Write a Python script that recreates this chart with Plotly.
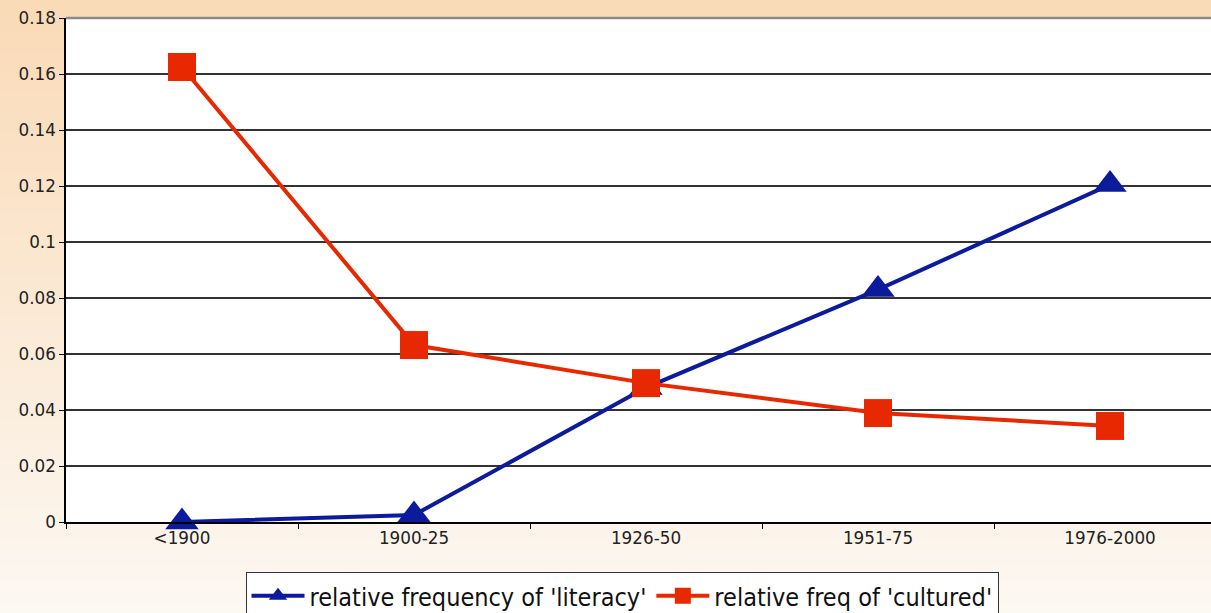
import plotly.graph_objects as go

categories = ["<1900", "1900-25", "1926-50", "1951-75", "1976-2000"]
literacy = [0.0, 0.0025, 0.048, 0.083, 0.1205]
cultured = [0.1625, 0.0632, 0.0496, 0.0389, 0.0343]
y_tickvals = [0, 0.02, 0.04, 0.06, 0.08, 0.1, 0.12, 0.14, 0.16, 0.18]
y_ticktext = ["0", "0.02", "0.04", "0.06", "0.08", "0.1", "0.12", "0.14", "0.16", "0.18"]

W, H = 1211, 613
ML, MR, MT, MB = 66, 0, 18, 91
pw, ph = W - ML - MR, H - MT - MB

fig = go.Figure()
fig.add_trace(go.Scatter(
    x=categories, y=literacy, mode="lines+markers",
    name="relative frequency of 'literacy'",
    line=dict(color="#0C1A9C", width=4),
    marker=dict(symbol="triangle-up", size=29, color="#0C1A9C"),
    cliponaxis=False,
))
fig.add_trace(go.Scatter(
    x=categories, y=cultured, mode="lines+markers",
    name="relative freq of 'cultured'",
    line=dict(color="#E82800", width=4),
    marker=dict(symbol="square", size=28, color="#E82800"),
    cliponaxis=False,
))

# gradient background
shapes = []
top_c = (250, 218, 182)
bot_c = (252, 248, 243)
n = 60
y_top = 1 + MT / ph
y_bot = -MB / ph
for i in range(n):
    t0 = i / n
    t1 = (i + 1) / n
    tm = (t0 + t1) / 2
    c = tuple(round(top_c[k] + (bot_c[k] - top_c[k]) * tm) for k in range(3))
    shapes.append(dict(
        type="rect", xref="paper", yref="paper", layer="below",
        x0=-ML / pw - 0.01, x1=1 + MR / pw + 0.01,
        y0=y_top - (y_top - y_bot) * t1 - 0.002, y1=y_top - (y_top - y_bot) * t0,
        fillcolor="rgb(%d,%d,%d)" % c, line=dict(width=0),
    ))
shapes.append(dict(type="rect", xref="paper", yref="paper", layer="below",
                   x0=0, x1=1, y0=0, y1=1, fillcolor="white", line=dict(width=0)))
shapes.append(dict(type="line", xref="paper", yref="paper", layer="between",
                   x0=0, x1=1, y0=1, y1=1, line=dict(color="#8a8a8a", width=2.5)))

fig.update_layout(
    width=W, height=H,
    margin=dict(l=ML, r=MR, t=MT, b=MB, pad=0, autoexpand=False),
    paper_bgcolor="rgb(252,240,228)",
    plot_bgcolor="white",
    shapes=shapes,
    font=dict(family="DejaVu Sans", size=16.8, color="#222"),
    showlegend=True,
    legend=dict(
        orientation="h", xref="container", yref="container",
        x=622 / W, xanchor="center", y=1 - 572 / H, yanchor="top",
        bgcolor="white", bordercolor="#333", borderwidth=1,
        font=dict(family="DejaVu Sans Condensed", size=25, color="#111"),
        itemwidth=53, tracegroupgap=0,
    ),
    xaxis=dict(
        type="category", range=[-0.5, -0.5 + pw / 232.0],
        tickson="boundaries", ticks="outside", ticklen=5, tickcolor="black",
        showline=True, linecolor="black", linewidth=1.5,
        showgrid=False, zeroline=False,
        tickfont=dict(family="DejaVu Sans", size=16.8, color="#222"),
    ),
    yaxis=dict(
        range=[0, 0.18], tickvals=y_tickvals, ticktext=y_ticktext,
        ticks="outside", ticklen=5, tickcolor="black",
        showline=True, linecolor="black", linewidth=1.5,
        showgrid=True, gridcolor="#333", gridwidth=1.6,
        zeroline=False,
        tickfont=dict(family="DejaVu Sans", size=16.8, color="#222"),
    ),
)

fig.write_html("out.html", config={"displayModeBar": False},
               post_script="document.body.style.margin='0px';document.body.style.overflow='hidden';")
